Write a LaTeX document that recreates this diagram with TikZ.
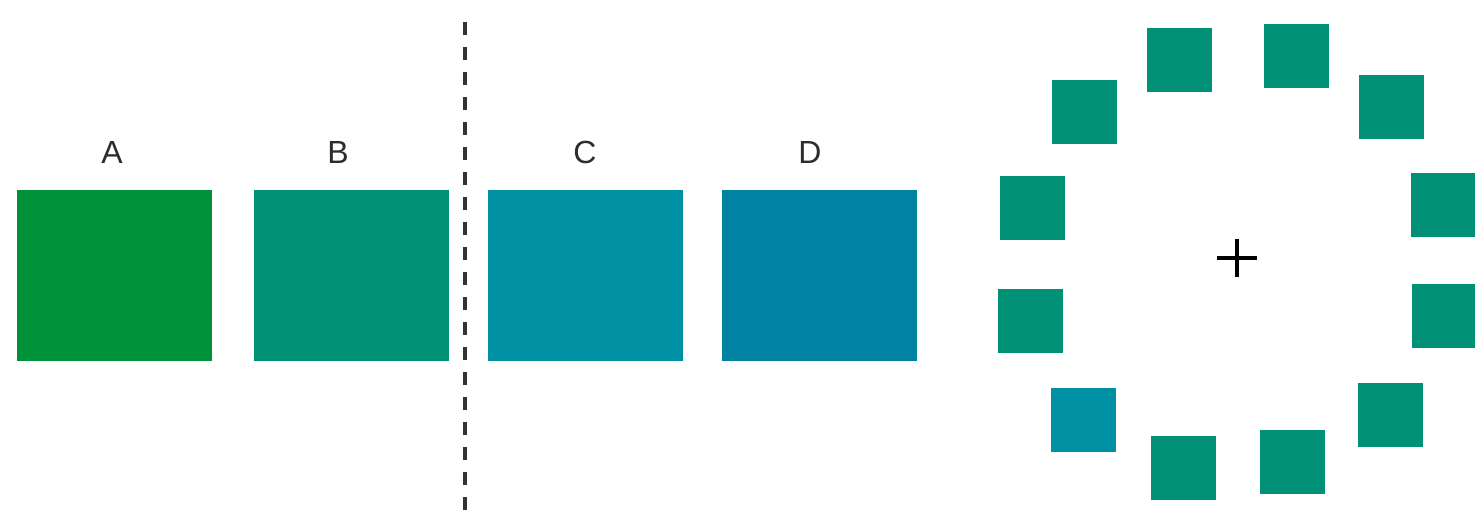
\documentclass[tikz,border=0pt]{standalone}
\usepackage{fontspec}
\setmainfont{Liberation Sans}
\definecolor{cA}{RGB}{0,146,58}
\definecolor{cB}{RGB}{0,145,118}
\definecolor{cC}{RGB}{0,144,164}
\definecolor{cD}{RGB}{0,130,162}
\definecolor{txt}{RGB}{45,45,45}
\tikzset{
  bigbox/.style={draw=none, minimum width=195pt, minimum height=171pt, inner sep=0pt, outer sep=0pt},
  smallbox/.style={draw=none, fill=cB, minimum width=65pt, minimum height=64pt, inner sep=0pt, outer sep=0pt},
  lbl/.style={text=txt, font=\fontsize{32}{38}\selectfont, inner sep=0pt},
  divider/.style={line width=4pt, dash pattern=on 13pt off 12pt, color=black!80}
}
\begin{document}
\begin{tikzpicture}[x=1pt,y=-1pt]
\useasboundingbox (0,0) rectangle (1475,512);
% big boxes
\node[bigbox, fill=cA] (A) at (114.5,275.5) {};
\node[bigbox, fill=cB] (B) at (351,275.5) {};
\node[bigbox, fill=cC] (C) at (585,275.5) {};
\node[bigbox, fill=cD] (D) at (819,275.5) {};
% labels
\node[lbl] (lA) at (112,152) {A};
\node[lbl] (lB) at (338,152) {B};
\node[lbl] (lC) at (585,152) {C};
\node[lbl] (lD) at (810,152) {D};
% divider
\coordinate (dtop) at (465,22);
\coordinate (dbot) at (465,512);
\draw[divider] (dtop) -- (dbot);
% ring of squares
\node[smallbox] (s1) at (1084.5,112) {};
\node[smallbox] (s2) at (1179,60) {};
\node[smallbox] (s3) at (1296,55.5) {};
\node[smallbox] (s4) at (1391,107) {};
\node[smallbox] (s5) at (1443,204.5) {};
\node[smallbox] (s6) at (1444,315.5) {};
\node[smallbox] (s7) at (1390,415) {};
\node[smallbox] (s8) at (1292.5,462) {};
\node[smallbox] (s9) at (1183,467.5) {};
\node[smallbox, fill=cC] (s10) at (1083,420) {};
\node[smallbox] (s11) at (1030.5,321) {};
\node[smallbox] (s12) at (1032,207.5) {};
% fixation cross
\coordinate (fx) at (1237,258);
\draw[line width=4pt, black] ([xshift=-20pt]fx) -- ([xshift=20pt]fx);
\draw[line width=4pt, black] ([yshift=-19pt]fx) -- ([yshift=19pt]fx);
\end{tikzpicture}
\end{document}
